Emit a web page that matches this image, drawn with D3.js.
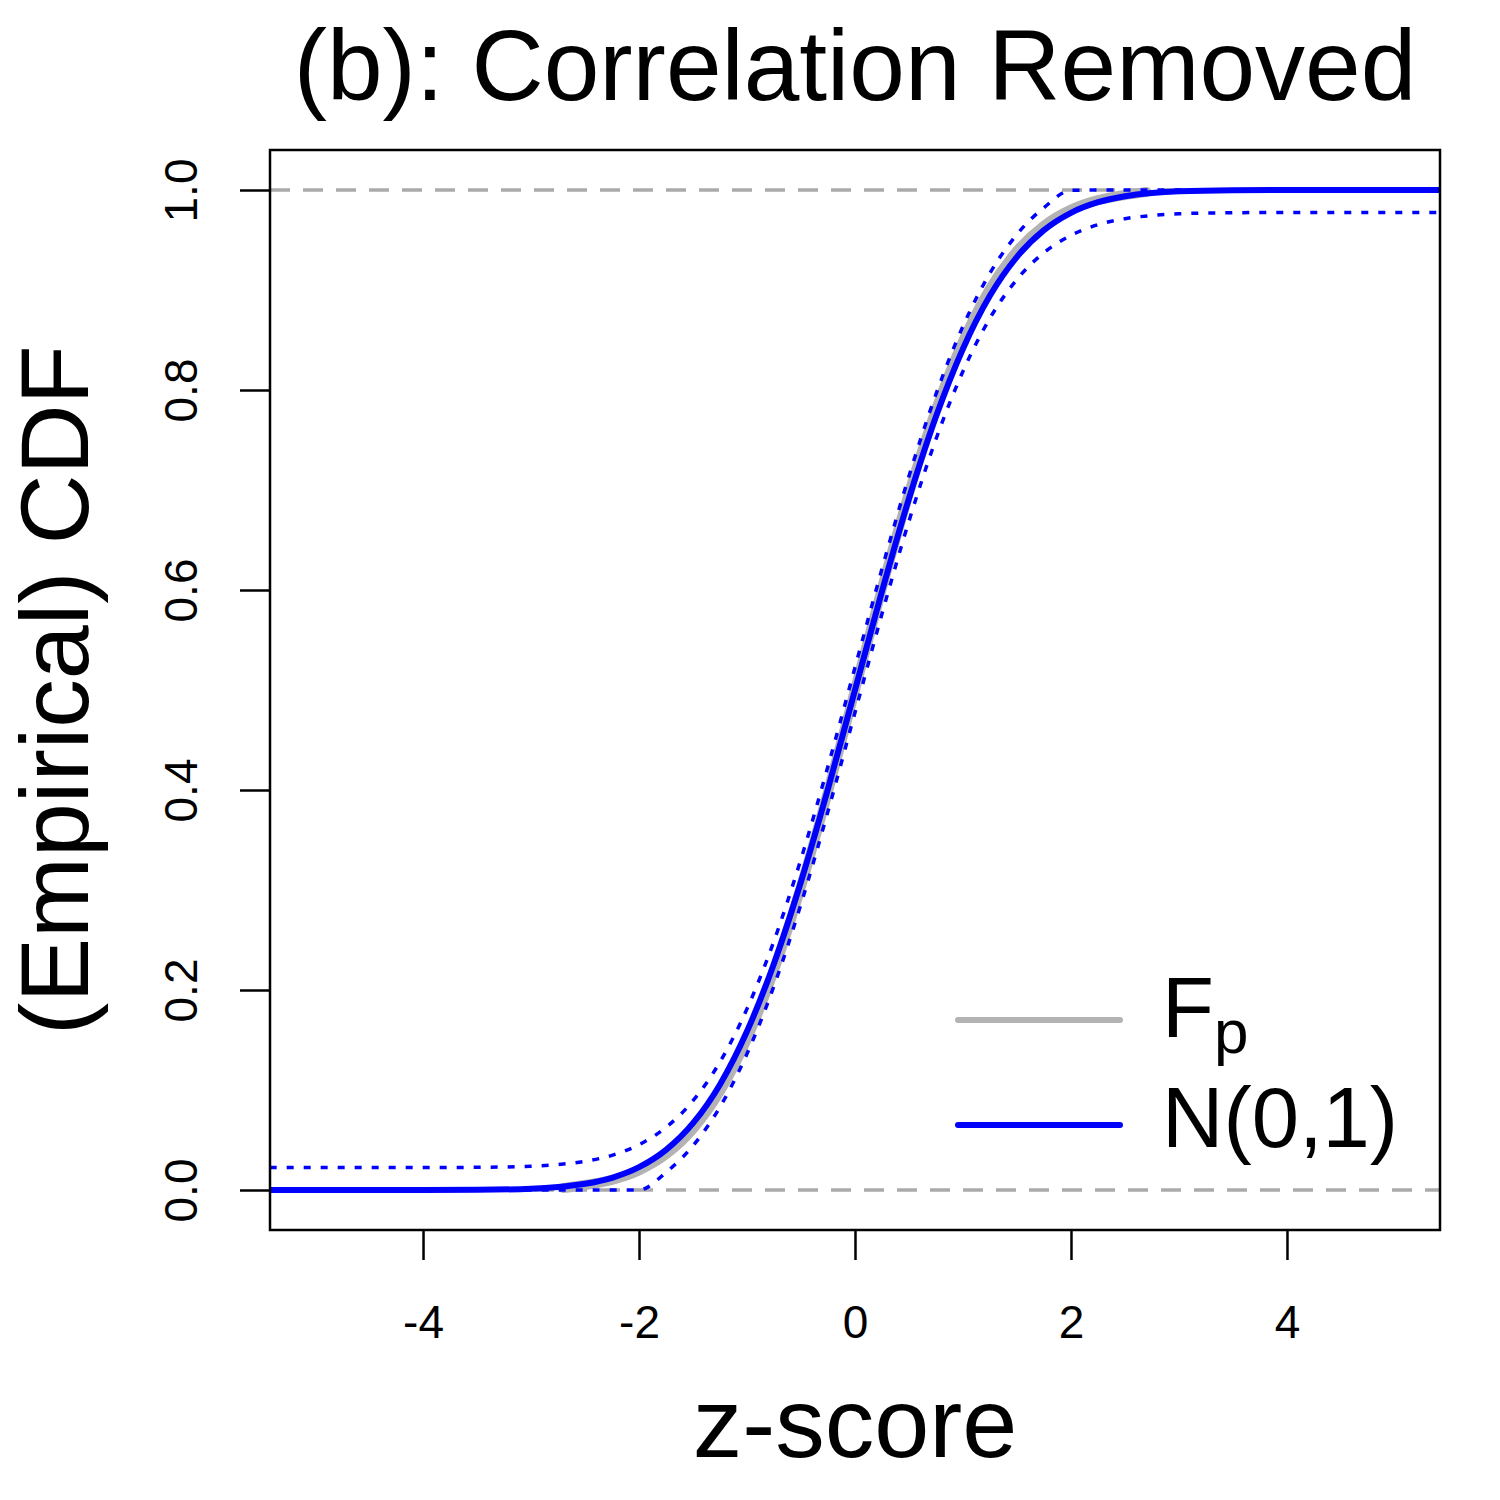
<!DOCTYPE html>
<html>
<head>
<meta charset="utf-8">
<script src="https://cdn.jsdelivr.net/npm/d3@7"></script>
<style>
  body { margin: 0; background: #fff; }
  text { font-family: "Liberation Sans", Arial, Helvetica, sans-serif; fill: #000; }
</style>
</head>
<body>
<div id="chart"></div>
<script>
// z grid shared by the normal curve and its band
const zGrid = [-5.42, -4, -3.5, -3, -2.75, -2.5, -2.25, -2, -1.75, -1.5, -1.25, -1, -0.75, -0.5, -0.25,
  0, 0.25, 0.5, 0.75, 1, 1.25, 1.5, 1.75, 2, 2.25, 2.5, 2.75, 3, 3.5, 4, 5.42];

// N(0,1) cdf
const normalCdf = [0, 0.00003, 0.0002, 0.0013, 0.003, 0.0062, 0.0122, 0.0228, 0.0401, 0.0668, 0.1056, 0.1587, 0.2266, 0.3085, 0.4013,
  0.5, 0.5987, 0.6915, 0.7734, 0.8413, 0.8944, 0.9332, 0.9599, 0.9772, 0.9878, 0.9938, 0.997, 0.9987, 0.9998, 0.99997, 1];

// dotted confidence band
const bandUpper = [0.0225, 0.0225, 0.0227, 0.0238, 0.0255, 0.0287, 0.0347, 0.0453, 0.0626, 0.0893, 0.1281, 0.1812, 0.2491, 0.331, 0.4238,
  0.5225, 0.6212, 0.714, 0.7959, 0.8638, 0.9169, 0.9557, 0.9824, 0.9997, 1, 1, 1, 1, 1, 1, 1];
const bandLower = [0, 0, 0, 0, 0, 0, 0, 0, 0.0176, 0.0443, 0.0831, 0.1362, 0.2041, 0.286, 0.3788,
  0.4775, 0.5762, 0.669, 0.7509, 0.8188, 0.8719, 0.9107, 0.9374, 0.9547, 0.9653, 0.9713, 0.9745, 0.9762, 0.9773, 0.9775, 0.9775];

// empirical cdf F_p (gray), spans the observed z-scores only
const fpZ = [-2.7, -2.5, -2.25, -2, -1.75, -1.5, -1.25, -1, -0.75, -0.5, -0.25, 0,
  0.25, 0.5, 0.75, 1, 1.25, 1.5, 1.75, 2, 2.25, 2.5, 2.7];
const fpCdf = [0.002, 0.005, 0.0102, 0.0196, 0.0356, 0.061, 0.0987, 0.1513, 0.2197, 0.3032, 0.3982, 0.5,
  0.6018, 0.6968, 0.7803, 0.8487, 0.9013, 0.939, 0.9644, 0.9804, 0.9898, 0.995, 0.998];

const xTicks = [-4, -2, 0, 2, 4];
const yTicks = [0, 0.2, 0.4, 0.6, 0.8, 1.0];
const refLevels = [0, 1];

const W = 1500, H = 1500;
const plot = {left: 270, right: 1440, top: 150, bottom: 1230};

const svg = d3.select("#chart").append("svg")
    .attr("width", W)
    .attr("height", H);

const x = d3.scaleLinear().domain([-5.417, 5.417]).range([plot.left, plot.right]);
const y = d3.scaleLinear().domain([-0.04, 1.04]).range([plot.bottom, plot.top]);

svg.append("clipPath").attr("id", "clip")
  .append("rect")
    .attr("x", plot.left).attr("y", plot.top)
    .attr("width", plot.right - plot.left).attr("height", plot.bottom - plot.top);

const inner = svg.append("g").attr("clip-path", "url(#clip)");

// dashed reference lines at 0 and 1
inner.selectAll(".ref").data(refLevels).enter()
  .append("line")
    .attr("x1", plot.left).attr("x2", plot.right)
    .attr("y1", d => y(d)).attr("y2", d => y(d))
    .attr("stroke", "#aaaaaa")
    .attr("stroke-width", 3.5)
    .attr("stroke-dasharray", "20,13");

const line = d3.line()
    .x(d => x(d[0]))
    .y(d => y(d[1]))
    .curve(d3.curveMonotoneX);

inner.append("path")
    .attr("d", line(d3.zip(fpZ, fpCdf)))
    .attr("fill", "none")
    .attr("stroke", "#b3b3b3")
    .attr("stroke-width", 10)
    .attr("stroke-linecap", "round");

inner.append("path")
    .attr("d", line(d3.zip(zGrid, normalCdf)))
    .attr("fill", "none")
    .attr("stroke", "#0000ff")
    .attr("stroke-width", 6);

[bandUpper, bandLower].forEach(band => {
  inner.append("path")
      .attr("d", line(d3.zip(zGrid, band)))
      .attr("fill", "none")
      .attr("stroke", "#0000ff")
      .attr("stroke-width", 3.5)
      .attr("stroke-dasharray", "7,10");
});

// frame
svg.append("rect")
    .attr("x", plot.left).attr("y", plot.top)
    .attr("width", plot.right - plot.left).attr("height", plot.bottom - plot.top)
    .attr("fill", "none")
    .attr("stroke", "#000")
    .attr("stroke-width", 2.5);

// x axis (plain hyphen for negatives, as R prints them)
const xAxisG = svg.append("g")
    .attr("transform", `translate(0,${plot.bottom})`)
    .call(d3.axisBottom(x).tickValues(xTicks).tickSize(30).tickSizeOuter(0).tickFormat(d => String(d)));
xAxisG.select(".domain").remove();
xAxisG.selectAll(".tick line").attr("stroke", "#000").attr("stroke-width", 2.5);
xAxisG.selectAll(".tick text")
    .attr("y", 108).attr("dy", null)
    .attr("font-size", 46)
    .attr("font-family", null)
    .attr("fill", "#000");

// y axis, labels turned like R's las = 0
const yAxisG = svg.append("g")
    .attr("transform", `translate(${plot.left},0)`)
    .call(d3.axisLeft(y).tickValues(yTicks).tickSize(30).tickSizeOuter(0).tickFormat(d3.format(".1f")));
yAxisG.select(".domain").remove();
yAxisG.selectAll(".tick line").attr("stroke", "#000").attr("stroke-width", 2.5);
yAxisG.selectAll(".tick text")
    .attr("x", null).attr("dy", null)
    .attr("transform", "translate(-73,0) rotate(-90)")
    .attr("text-anchor", "middle")
    .attr("font-size", 46)
    .attr("font-family", null)
    .attr("fill", "#000");

// title and axis titles
svg.append("text")
    .attr("x", (plot.left + plot.right) / 2)
    .attr("y", 100)
    .attr("text-anchor", "middle")
    .attr("font-size", 100)
    .text("(b): Correlation Removed");

svg.append("text")
    .attr("x", (plot.left + plot.right) / 2)
    .attr("y", 1457)
    .attr("text-anchor", "middle")
    .attr("font-size", 99)
    .text("z-score");

svg.append("text")
    .attr("transform", `translate(88,${(plot.top + plot.bottom) / 2}) rotate(-90)`)
    .attr("text-anchor", "middle")
    .attr("font-size", 97)
    .text("(Empirical) CDF");

// legend
const legend = svg.append("g");
const legendItems = [
  {color: "#b3b3b3", ly: 1020},
  {color: "#0000ff", ly: 1125}
];
legend.selectAll("line").data(legendItems).enter()
  .append("line")
    .attr("x1", 958).attr("x2", 1120)
    .attr("y1", d => d.ly).attr("y2", d => d.ly)
    .attr("stroke", d => d.color)
    .attr("stroke-width", 6)
    .attr("stroke-linecap", "round");

const fpLabel = legend.append("text")
    .attr("x", 1162).attr("y", 1037)
    .attr("font-size", 85);
fpLabel.append("tspan").text("F");
fpLabel.append("tspan").attr("font-size", 62).attr("dy", 16).text("p");

legend.append("text")
    .attr("x", 1162).attr("y", 1147)
    .attr("font-size", 85)
    .text("N(0,1)");
</script>
</body>
</html>
